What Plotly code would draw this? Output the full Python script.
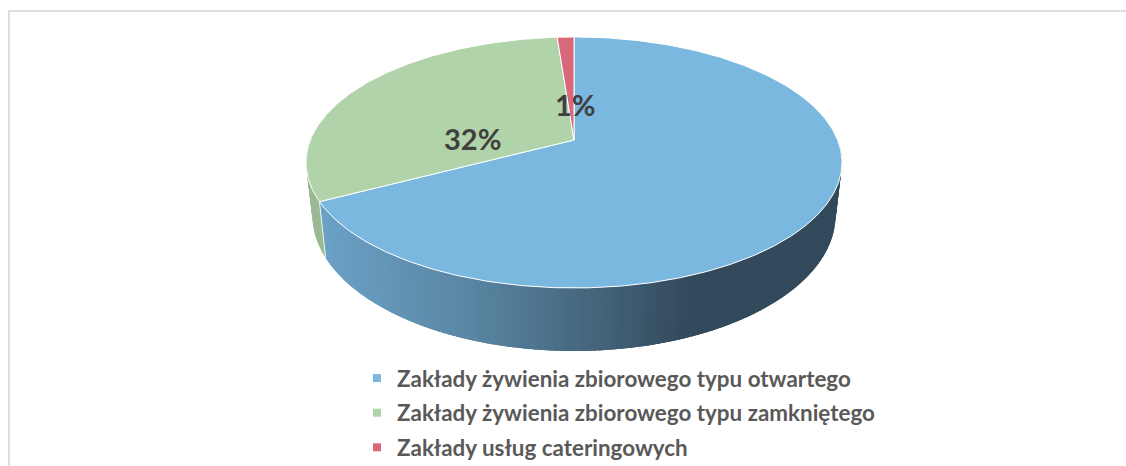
import numpy as np
import plotly.graph_objects as go

categories = ["Zakłady żywienia zbiorowego typu otwartego",
              "Zakłady żywienia zbiorowego typu zamkniętego",
              "Zakłady usług cateringowych"]
values = [67.3, 31.5, 1.2]
labels = [None, "32%", "1%"]
colors = ["#7ab8e0", "#b1d3a9", "#d9697a"]

# pie projection (pixel-like plot scale; y grows downward)
CX, CY, A, B, K = 574, 140, 121.5, 263.6, 0.179
FIG_W, FIG_H = 1126, 469


def top(t):
    u, v = np.sin(t), np.cos(t)
    d = 1 + K * v
    return B * u / d, -A * v / d


def bottom(t):
    x, y = top(t)
    return x * 0.976, y * 1.081 + 51


fig = go.Figure()

total = sum(values)
edges = np.cumsum([0] + values) / total * 2 * np.pi

# side wall
blue_stops_x = [319, 470, 600, 690, 842]
blue_stops_rgb = [(108, 162, 199), (90, 134, 163), (68, 100, 122), (50, 74, 91), (50, 74, 91)]
green_rgb = (155, 185, 148)
start = np.radians(92)
side_end = np.radians(275)
ts = np.linspace(start, side_end, 184)
step = ts[1] - ts[0]
for t0 in ts[:-1]:
    tm = t0 + step / 2
    is_blue = tm < edges[1]
    t1 = t0 + step * 2.5
    t1 = min(t1, edges[1]) if is_blue else min(t1, side_end)
    arc = np.linspace(t0, t1, 4)
    xt, yt = top(arc)
    xb, yb = bottom(arc[::-1])
    if is_blue:
        xm = CX + top(tm)[0]
        rgb = [np.interp(xm, blue_stops_x, [c[i] for c in blue_stops_rgb]) for i in range(3)]
    else:
        rgb = green_rgb
    col = "rgb(%d,%d,%d)" % tuple(rgb)
    fig.add_trace(go.Scatter(x=np.r_[CX + xt, CX + xb, CX + xt[0]],
                             y=np.r_[CY + yt, CY + yb, CY + yt[0]],
                             mode="lines", fill="toself", fillcolor=col,
                             line=dict(color=col, width=0),
                             showlegend=False, hoverinfo="skip"))

# white divider on the side wall at the blue/green edge
xe0, ye0 = top(edges[1]); xe1, ye1 = bottom(edges[1])
fig.add_trace(go.Scatter(x=[CX + xe0, CX + xe1], y=[CY + ye0, CY + ye1], mode="lines",
                         line=dict(color="rgba(255,255,255,0.85)", width=1),
                         showlegend=False, hoverinfo="skip"))

# top slices
for i, cat in enumerate(categories):
    t = np.linspace(edges[i], edges[i + 1], max(int(values[i] * 6), 8))
    x, y = top(t)
    fig.add_trace(go.Scatter(x=np.r_[CX, CX + x, CX], y=np.r_[CY, CY + y, CY],
                             mode="lines", fill="toself", fillcolor=colors[i],
                             line=dict(color="white", width=1),
                             name=cat, showlegend=False, hoverinfo="skip"))

# legend entries
for i, cat in enumerate(categories):
    fig.add_trace(go.Scatter(x=[None], y=[None], mode="markers", name=cat, legendgroup=cat,
                             marker=dict(symbol="square", size=8, color=colors[i])))

label_pos = [None, (472, 138), (575, 104.5)]
for lab, pos in zip(labels, label_pos):
    if lab:
        fig.add_annotation(x=pos[0], y=pos[1], text="<b>%s</b>" % lab, showarrow=False,
                           font=dict(family="Lato", size=29, color="#404040"))

fig.update_layout(
    width=FIG_W, height=FIG_H, margin=dict(l=0, r=0, t=0, b=0),
    paper_bgcolor="white", plot_bgcolor="white",
    xaxis=dict(range=[0, FIG_W], visible=False, fixedrange=True),
    yaxis=dict(range=[FIG_H, 0], visible=False, fixedrange=True),
    legend=dict(x=357 / FIG_W, y=0, xanchor="left", yanchor="bottom",
                tracegroupgap=2.5, bgcolor="rgba(0,0,0,0)",
                font=dict(family="Lato", size=22.4, color="#595959", weight="bold")),
    shapes=[
        dict(type="line", xref="x", yref="y", x0=8, x1=FIG_W, y0=11, y1=11,
             line=dict(color="#dedede", width=2)),
        dict(type="line", xref="x", yref="y", x0=9, x1=9, y0=10, y1=FIG_H,
             line=dict(color="#dedede", width=2)),
    ],
)
fig.write_html("out.html", config=dict(displayModeBar=False),
               post_script="document.body.style.margin='0';document.body.style.overflow='hidden';")
